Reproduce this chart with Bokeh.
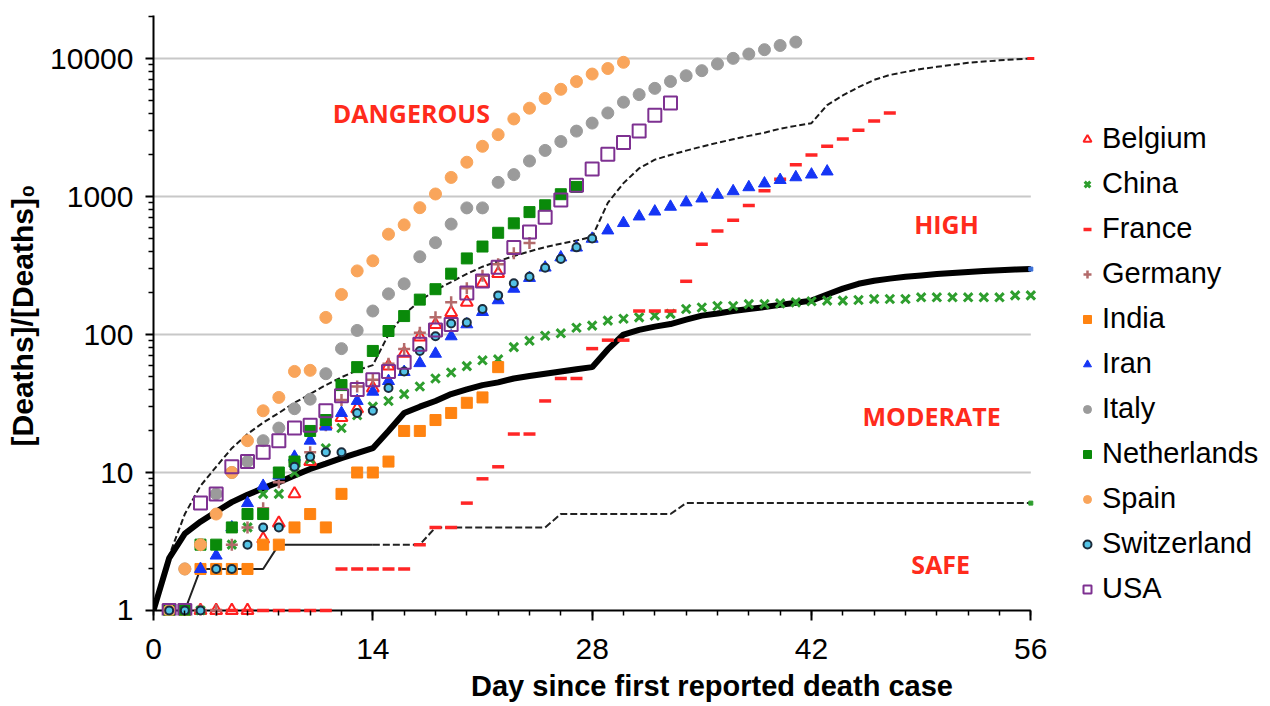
from bokeh.plotting import figure
from bokeh.models import (FixedTicker, Label, Legend, LegendItem, Range1d,
                          NumeralTickFormatter)
from bokeh.embed import file_html
from bokeh.resources import INLINE

# ---------------- data ----------------
belgium = [1, 1, 1, 1, 1, 1, 3.3, 4.3, 7, 12, 22, 25, 29, 41, 59, 73, 96, 118, 144, 171, 235, 276]
china = [1, 1, 1, 2, 3, 4, 7, 7, 10, 12.5, 15, 21, 26, 30, 33, 37, 42, 48, 53, 59, 65, 66, 81, 90,
         98, 102, 112, 116, 126, 130, 133, 137, 141, 153, 157, 161, 161, 166, 166, 168, 171, 174,
         176, 176, 178, 181, 181, 181, 186, 186, 186, 186, 186, 186, 192, 192]
france = [1, 1, 1, 1, 1, 1, 1, 1, 1, 1, 1, 2, 2, 2, 2, 2, 3, 4, 4, 6, 9, 11, 19, 19, 33, 48, 48,
          79, 91, 91, 148, 148, 148, 243, 450, 562, 674, 860, 1100, 1331, 1696, 1995, 2314, 2606,
          3024, 3523, 4032]
germany = [1, 1, 1, 1, 3, 4, 5.5, 8.5, 12, 14, 22, 33.5, 42, 47, 61.5, 78.5, 103, 133.5, 171,
           216.5, 266.5, 322.5, 387.5, 460]
india = [1, 1, 2, 2, 2, 2, 3, 3, 4, 5, 4, 7, 10, 10, 12, 20, 20, 24, 27, 32, 35, 58]
iran = [1, 1, 2, 2.5, 4, 6, 8, 9.5, 13, 17, 21.5, 27, 33, 38.5, 46, 53.5, 62, 72.5, 97, 118.5,
        145.5, 177, 214.5, 257, 305.5, 362, 426.5, 494, 567.5, 642, 716.5, 778, 842.5, 906, 967,
        1028, 1092, 1167, 1243, 1317, 1378, 1442, 1518]
italy = [1, 2, 3, 7, 10, 12, 17, 21, 29, 34, 52, 79, 107, 148, 197, 233, 366, 463, 631, 827, 827,
         1266, 1441, 1809, 2158, 2503, 2978, 3405, 4032, 4825, 5476, 6077, 6820, 7503, 8165, 9134,
         10023, 10779, 11591, 12428, 13155]
netherlands = [1, 1, 3, 3, 4, 5, 5, 10, 12, 20, 24, 43, 58, 76, 106, 136, 179, 213, 276, 356, 434,
               546, 639, 771, 864, 1039, 1173]
spain = [1, 2, 3, 5, 10, 17, 28, 35, 54, 55, 133, 195, 289, 342, 533, 623, 830, 1043, 1375, 1772,
         2311, 2808, 3647, 4365, 5138, 5982, 6803, 7716, 8464, 9387]
switzerland = [1, 1, 1, 2, 2, 3, 4, 4, 11, 13, 14, 14, 27, 28, 41, 54, 76, 97, 120, 122, 153, 192,
               235, 262, 305, 353, 428, 496]
usa = [1, 1, 6, 7, 11, 12, 14, 17, 21, 22, 28, 36, 40, 47, 54, 63, 85, 108, 118, 200, 244, 307, 427,
       553, 706, 942, 1209, 1581, 2026, 2467, 2978, 3873, 4757]

# reference curves, days 0..56
upper_line = [1, 2.5, 5, 8, 11, 15, 19, 23, 27, 32, 37, 43, 49, 55, 60, 100, 140, 175, 210, 240,
              275, 310, 340, 370, 400, 430, 455, 480, 510, 900, 1250, 1600, 1850, 2000, 2150,
              2300, 2450, 2600, 2750, 2900, 3100, 3250, 3400, 4600, 5400, 6200, 7000, 7600, 8000,
              8400, 8700, 9000, 9300, 9500, 9700, 9850, 10000]
middle_line = [1, 2.4, 3.6, 4.4, 5.2, 6.1, 6.9, 7.7, 8.5, 9.5, 10.6, 11.6, 12.7, 13.8, 15, 20, 27,
               30, 33, 37, 40, 43, 45, 48, 50, 52, 54, 56, 58, 78, 100, 108, 114, 119, 128, 137,
               142, 148, 153, 158, 164, 170, 176, 195, 215, 233, 245, 254, 262, 268, 274, 279, 284,
               288, 292, 296, 298]
# days 2..56
lower_line = [1, 2, 2, 2, 2, 2, 3, 3, 3, 3, 3, 3, 3, 3, 3, 3, 4, 4, 4, 4, 4, 4, 4, 4, 5, 5, 5, 5,
              5, 5, 5, 5, 6, 6, 6, 6, 6, 6, 6, 6, 6, 6, 6, 6, 6, 6, 6, 6, 6, 6, 6, 6, 6, 6, 6]

x_ticks = [0, 14, 28, 42, 56]
y_ticks = [1, 10, 100, 1000, 10000]


def days_for(series, start=1):
    return list(range(start, start + len(series)))


# ---------------- figure ----------------
Y0, Y1 = 0.9199, 20497
X1 = 71.3
p = figure(frame_width=1117, frame_height=600, x_range=Range1d(0, X1), y_range=Range1d(Y0, Y1),
           y_axis_type="log", output_backend="svg", toolbar_location=None,
           min_border_left=153, min_border_right=0, min_border_top=15, min_border_bottom=0)
p.outline_line_color = None
p.xgrid.visible = False
p.ygrid.visible = False
p.background_fill_color = "white"
p.border_fill_color = "white"

# grid lines and x axis line (only over days 0..56)
gy = y_ticks[1:]
p.segment(x0=[x_ticks[0]] * len(gy), x1=[x_ticks[-1]] * len(gy), y0=gy, y1=gy,
          line_color="#C8C8C8", line_width=2)
p.segment(x0=[x_ticks[0]], x1=[x_ticks[-1]], y0=[y_ticks[0]], y1=[y_ticks[0]],
          line_color="black", line_width=2)

xa = p.xaxis[0]
minor_x = list(range(x_ticks[0], x_ticks[-1] + 1, 2))
xa.ticker = FixedTicker(ticks=x_ticks, minor_ticks=minor_x)
xa.bounds = (x_ticks[0], x_ticks[-1])
xa.axis_line_color = None
xa.major_tick_out = 5
xa.major_tick_in = 5
xa.minor_tick_out = 0
xa.minor_tick_in = 5
xa.major_tick_line_width = 2
xa.minor_tick_line_width = 1.5
xa.major_label_text_font = "Liberation Sans"
xa.major_label_text_font_size = "30px"
xa.major_label_text_color = "black"
xa.major_label_standoff = 18
xa.axis_label = "Day since first reported death case"
xa.axis_label_text_font = "Liberation Sans"
xa.axis_label_text_font_style = "bold"
xa.axis_label_text_font_size = "29px"
xa.axis_label_text_color = "black"
xa.axis_label_standoff = 8

ya = p.yaxis[0]
minor_y = [m * 10 ** k for k in range(0, 5) for m in range(2, 10)] + [20000]
ya.ticker = FixedTicker(ticks=y_ticks, minor_ticks=minor_y)
ya.formatter = NumeralTickFormatter(format="0")
ya.bounds = (1, Y1)
ya.axis_line_width = 2
ya.axis_line_color = "black"
ya.major_tick_out = 8
ya.major_tick_in = 0
ya.minor_tick_out = 5
ya.minor_tick_in = 0
ya.major_tick_line_width = 2
ya.minor_tick_line_width = 1.5
ya.major_label_text_font = "Liberation Sans"
ya.major_label_text_font_size = "30px"
ya.major_label_text_color = "black"
ya.major_label_standoff = 12
ya.axis_label = "[Deaths]/[Deaths]\u2080"
ya.axis_label_text_font = "Liberation Sans"
ya.axis_label_text_font_style = "bold"
ya.axis_label_text_font_size = "30px"
ya.axis_label_text_color = "black"
ya.axis_label_standoff = 8

# ---------------- reference curves ----------------
d_full = list(range(0, 57))
p.line(d_full, upper_line, line_color="#1A1A1A", line_width=2, line_dash="6 3")
p.line(d_full, middle_line, line_color="black", line_width=6)
d_low = list(range(2, 57))
split = d_low.index(14) + 1
p.line(d_low[:split], lower_line[:split], line_color="#222222", line_width=2)
p.line(d_low[split - 1:], lower_line[split - 1:], line_color="#222222", line_width=2,
       line_dash="7 3")
p.scatter([d_full[-1]], [upper_line[-1]], marker="dash", size=7, line_color="#FF2020", line_width=3)
p.scatter([d_full[-1]], [middle_line[-1]], marker="square", size=4, color="#3A6FD8")
p.scatter([d_low[-1]], [lower_line[-1]], marker="square", size=4, color="#2E9E2E")

# ---------------- country series ----------------
items = []


def add(name, series, **kw):
    r = p.scatter(days_for(series), series, **kw)
    items.append(LegendItem(label=name, renderers=[r]))


add("Belgium", belgium, marker="triangle", size=12, fill_color=None, line_color="#FF2020",
    line_width=2)
add("China", china, marker="x", size=12, line_color="#2E9E2E", line_width=3)
add("France", france, marker="dash", size=12, line_color="#FF2626", line_width=3.5)
add("Germany", germany, marker="cross", size=12, line_color="#B36B6B", line_width=2.5)
add("India", india, marker="square", size=11, fill_color="#FF8311", line_color="#FF8311")
add("Iran", iran, marker="triangle", size=12, fill_color="#1535F5", line_color="#1535F5")
add("Italy", italy, marker="circle", size=12, fill_color="#9B9B9B", line_color="#9B9B9B")
add("Netherlands", netherlands, marker="square", size=11, fill_color="#0A8A0A",
    line_color="#0A8A0A")
add("Spain", spain, marker="circle", size=12, fill_color="#F9A55B", line_color="#F9A55B")
add("Switzerland", switzerland, marker="circle", size=8, fill_color="#53C3E6",
    line_color="#1C2C3C", line_width=2)
add("USA", usa, marker="square", size=13, fill_color=None, line_color="#7E3191", line_width=2)

legend = Legend(items=items, location=(924, 10), glyph_width=20, glyph_height=20,
                label_height=30, spacing=12, padding=0, margin=0, label_standoff=5,
                border_line_color=None, background_fill_alpha=0,
                label_text_font="Liberation Sans", label_text_font_size="29px",
                label_text_color="black")
p.add_layout(legend)

# ---------------- zone texts ----------------
zone_style = dict(text_font="Open Sans", text_font_style="bold", text_font_size="25px",
                  text_color="#FF2B1C", text_align="center", text_baseline="middle")
p.add_layout(Label(x=16.46, y=4008, text="DANGEROUS", **zone_style))
p.add_layout(Label(x=50.62, y=637, text="HIGH", **zone_style))
p.add_layout(Label(x=49.67, y=25.5, text="MODERATE", **zone_style))
p.add_layout(Label(x=50.25, y=2.19, text="SAFE", **zone_style))

open("out.html", "w").write(file_html(p, INLINE))
